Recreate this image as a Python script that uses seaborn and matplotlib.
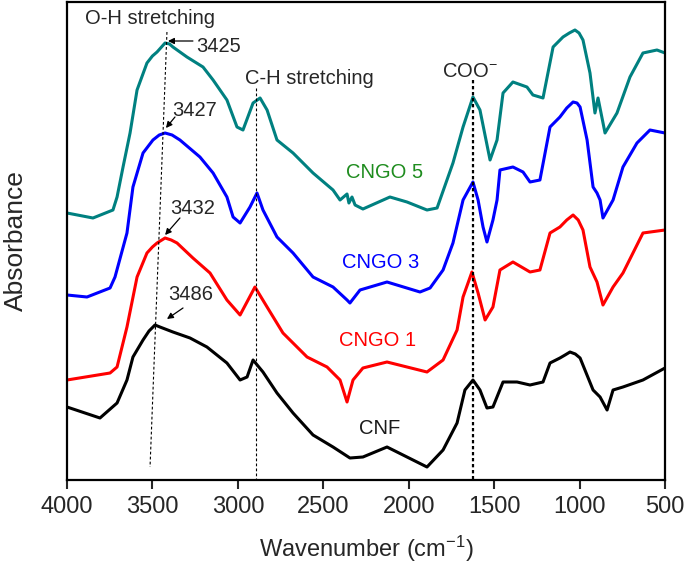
import numpy as np
import pandas as pd
import seaborn as sns
import matplotlib
matplotlib.use("Agg")
import matplotlib.pyplot as plt

# Spectres FTIR (nombre d'onde en cm-1, absorbance en unités arbitraires, décalées)
wn_cnf = [4000, 3807, 3707, 3649, 3614, 3555, 3520, 3485, 3456, 3380, 3280, 3181, 3064, 2987, 2946,
          2911, 2853, 2771, 2677, 2560, 2443, 2344, 2268, 2127, 2010, 1893, 1799, 1717, 1671, 1624,
          1583, 1542, 1507, 1448, 1366, 1290, 1214, 1173, 1115, 1085, 1056, 1025, 997, 921, 880,
          839, 804, 746, 629, 500]
abs_cnf = [0.73, 0.62, 0.77, 1.00, 1.23, 1.40, 1.49, 1.55, 1.53, 1.48, 1.42, 1.33, 1.17, 1.00, 1.03,
           1.20, 1.08, 0.87, 0.67, 0.45, 0.33, 0.22, 0.23, 0.33, 0.23, 0.13, 0.30, 0.57, 0.90, 1.00,
           0.90, 0.72, 0.73, 0.98, 0.98, 0.95, 0.98, 1.17, 1.22, 1.25, 1.28, 1.26, 1.22, 0.90, 0.83,
           0.70, 0.90, 0.93, 1.00, 1.12]

wn_cngo1 = [4000, 3748, 3707, 3649, 3590, 3532, 3500, 3473, 3426, 3390, 3356, 3263, 3163, 3064, 2987,
            2900, 2829, 2736, 2595, 2478, 2402, 2361, 2326, 2268, 2127, 2010, 1893, 1799, 1717, 1682,
            1630, 1594, 1553, 1507, 1466, 1390, 1290, 1232, 1173, 1115, 1075, 1038, 1008, 980, 939,
            898, 863, 804, 746, 629, 500]
abs_cngo1 = [1.00, 1.07, 1.13, 1.53, 2.03, 2.27, 2.33, 2.37, 2.42, 2.40, 2.37, 2.22, 2.07, 1.80, 1.65,
             1.93, 1.73, 1.47, 1.23, 1.13, 1.00, 0.78, 1.00, 1.12, 1.18, 1.13, 1.08, 1.20, 1.50, 1.83,
             2.08, 1.87, 1.60, 1.73, 2.10, 2.18, 2.08, 2.10, 2.47, 2.53, 2.60, 2.65, 2.60, 2.50, 2.13,
             1.98, 1.75, 1.93, 2.07, 2.47, 2.50]

wn_cngo3 = [4000, 3883, 3748, 3719, 3649, 3614, 3555, 3497, 3460, 3426, 3385, 3339, 3222, 3145, 3064,
            3028, 2987, 2929, 2888, 2853, 2771, 2677, 2560, 2443, 2361, 2344, 2285, 2127, 1934, 1875,
            1799, 1741, 1682, 1624, 1594, 1565, 1542, 1507, 1483, 1466, 1390, 1331, 1290, 1232, 1173,
            1115, 1075, 1038, 1015, 997, 956, 921, 898, 880, 863, 804, 746, 664, 588, 500]
abs_cngo3 = [1.85, 1.83, 1.92, 2.03, 2.47, 2.93, 3.27, 3.40, 3.45, 3.47, 3.45, 3.40, 3.23, 3.07, 2.83,
             2.63, 2.57, 2.73, 2.87, 2.70, 2.43, 2.27, 2.03, 1.93, 1.80, 1.77, 1.90, 1.98, 1.88, 1.92,
             2.10, 2.37, 2.80, 2.98, 2.80, 2.53, 2.38, 2.60, 2.80, 3.10, 3.13, 3.08, 2.98, 3.00, 3.53,
             3.63, 3.72, 3.78, 3.77, 3.73, 3.40, 2.93, 2.87, 2.80, 2.62, 2.80, 3.13, 3.37, 3.50, 3.47]

wn_cngo5 = [4000, 3848, 3731, 3707, 3672, 3631, 3590, 3532, 3500, 3473, 3426, 3400, 3380, 3298, 3204,
            3145, 3064, 3005, 2970, 2911, 2870, 2829, 2771, 2677, 2560, 2443, 2402, 2361, 2350, 2332,
            2314, 2291, 2268, 2110, 2010, 1893, 1834, 1741, 1682, 1624, 1583, 1524, 1483, 1448, 1390,
            1308, 1273, 1214, 1155, 1097, 1060, 1027, 1003, 980, 939, 910, 892, 851, 781, 705,
            629, 547, 500]
abs_cngo5 = [2.67, 2.62, 2.70, 2.83, 3.13, 3.47, 3.90, 4.17, 4.24, 4.28, 4.37, 4.36, 4.33, 4.23, 4.13,
             4.00, 3.80, 3.53, 3.50, 3.77, 3.82, 3.70, 3.40, 3.27, 3.07, 2.90, 2.80, 2.86, 2.77, 2.83,
             2.75, 2.73, 2.71, 2.83, 2.78, 2.70, 2.72, 3.17, 3.53, 3.83, 3.70, 3.20, 3.40, 3.87, 3.98,
             3.93, 3.85, 3.82, 4.33, 4.43, 4.47, 4.50, 4.47, 4.40, 4.07, 3.67, 3.82, 3.47, 3.67, 4.03,
             4.27, 4.30, 4.27]

echantillons = ["CNF", "CNGO 1", "CNGO 3", "CNGO 5"]
couleurs = {"CNF": "black", "CNGO 1": "#ff0000", "CNGO 3": "#0000ff", "CNGO 5": "#008080"}
couleurs_texte = {"CNF": "#1a1a1a", "CNGO 1": "#ff0000", "CNGO 3": "#0000ff", "CNGO 5": "#1e8c1e"}

# positions des étiquettes des courbes et des pics
pos_etiquettes = {"CNF": (2168, 0.51), "CNGO 1": (2180, 1.40), "CNGO 3": (2162, 2.18), "CNGO 5": (2139, 3.07)}
pics_oh = ["3425", "3427", "3432", "3486"]

donnees = pd.concat([
    pd.DataFrame({"wn": wn_cnf, "absorbance": abs_cnf, "echantillon": "CNF"}),
    pd.DataFrame({"wn": wn_cngo1, "absorbance": abs_cngo1, "echantillon": "CNGO 1"}),
    pd.DataFrame({"wn": wn_cngo3, "absorbance": abs_cngo3, "echantillon": "CNGO 3"}),
    pd.DataFrame({"wn": wn_cngo5, "absorbance": abs_cngo5, "echantillon": "CNGO 5"}),
])

sns.set_style("white")
plt.rcParams["font.family"] = ["Liberation Sans", "DejaVu Sans"]
plt.rcParams["mathtext.fontset"] = "custom"
plt.rcParams["mathtext.rm"] = "Liberation Sans"
plt.rcParams["mathtext.it"] = "Liberation Sans:italic"

fig = plt.figure(figsize=(6.85, 5.66), dpi=100)
ax = fig.add_axes([67 / 685, 1 - 480 / 566, 598 / 685, 478 / 566])

sns.lineplot(data=donnees, x="wn", y="absorbance", hue="echantillon", hue_order=echantillons,
             palette=couleurs, estimator=None, sort=False, linewidth=2.2, legend=False, ax=ax)

ax.set_xlim(4000, 500)
ax.set_ylim(0, 4.78)
ax.set_xticks(np.arange(4000, 499, -500))
ax.set_yticks([])
ax.tick_params(axis="x", direction="out", length=6.5, width=1.5, labelsize=17, pad=5, bottom=True)
for s in ax.spines.values():
    s.set_color("black")
    s.set_linewidth(1.6)

ax.set_xlabel("Wavenumber (cm$^{-1}$)", fontsize=17)
ax.set_ylabel("Absorbance", fontsize=19)
ax.xaxis.set_label_coords(0.5, -0.112)
ax.yaxis.set_label_coords(-0.066, 0.5)

# lignes de repère des bandes
ax.plot([3415, 3514], [4.48, 0.13], color="black", lw=0.8, ls=(0, (2.5, 2)))
ax.plot([2894, 2894], [3.92, 0], color="black", lw=0.8, ls=(0, (2.5, 2)))
ax.plot([1624, 1624], [4.00, 0], color="black", lw=1.6, ls=(0, (1.5, 1.2)))

ax.text(3514, 4.62, "O-H stretching", fontsize=14.5, ha="center", va="center")
ax.text(2584, 4.01, "C-H stretching", fontsize=14.5, ha="center", va="center")
ax.text(1805, 4.03, "COO$^{-}$", fontsize=14.5, ha="left", va="baseline")

# flèches vers les maxima O-H
fleches = [((3245, 4.34), (3409, 4.39), (3263, 4.39)),
           ((3385, 3.69), (3421, 3.52), (3368, 3.63)),
           ((3397, 2.72), (3426, 2.45), (3339, 2.62)),
           ((3409, 1.85), (3415, 1.61), (3321, 1.72))]
for etiquette, (pos_txt, tete, queue) in zip(pics_oh, fleches):
    ax.text(pos_txt[0], pos_txt[1], etiquette, fontsize=14.5, ha="left", va="center")
    ax.annotate("", xy=tete, xytext=queue,
                arrowprops=dict(arrowstyle="-|>", color="black", lw=0.9, mutation_scale=9,
                                shrinkA=0, shrinkB=0))

for nom in echantillons:
    x, y = pos_etiquettes[nom]
    ax.text(x, y, nom, fontsize=14.5, color=couleurs_texte[nom], ha="center", va="center")

fig.savefig("out.png", dpi=100)
